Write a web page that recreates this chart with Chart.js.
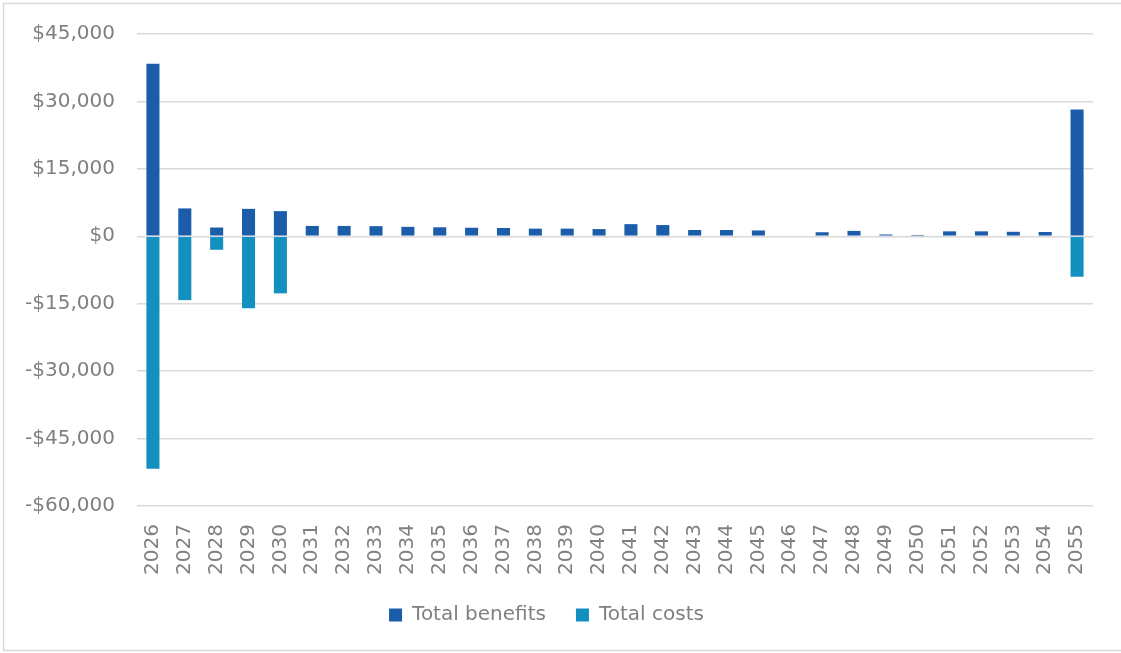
<!DOCTYPE html>
<html>
<head>
<meta charset="utf-8">
<script src="https://cdn.jsdelivr.net/npm/chart.js@4.4.1/dist/chart.umd.min.js"></script>
<style>
  html, body { margin: 0; padding: 0; background: #ffffff; }
  #wrap { width: 1121px; height: 653px; position: relative; }
</style>
</head>
<body>
<div id="wrap"><canvas id="c" width="1121" height="653"></canvas></div>
<script>
const years = ['2026','2027','2028','2029','2030','2031','2032','2033','2034','2035',
  '2036','2037','2038','2039','2040','2041','2042','2043','2044','2045',
  '2046','2047','2048','2049','2050','2051','2052','2053','2054','2055'];
const totalBenefits = [38400, 6200, 1950, 6100, 5600, 2300, 2300, 2250, 2100, 2000,
  1900, 1850, 1700, 1700, 1600, 2700, 2500, 1400, 1400, 1300,
  0, 900, 1200, 400, 300, 1100, 1100, 1000, 950, 28200];
const totalCosts = [-51700, -14200, -3000, -16000, -12700, 0, 0, 0, 0, 0,
  0, 0, 0, 0, 0, 0, 0, 0, 0, 0,
  0, 0, 0, 0, 0, 0, 0, 0, 0, -9000];
const yMin = -60000, yMax = 45000, yStep = 15000;

const FONT = 'DejaVu Sans';
const TEXT = '#808080';

const borderPlugin = {
  id: 'outerBorder',
  beforeDraw(chart) {
    const ctx = chart.ctx;
    ctx.save();
    ctx.fillStyle = '#ffffff';
    ctx.fillRect(0, 0, chart.width, chart.height);
    ctx.strokeStyle = '#d9d9d9';
    ctx.lineWidth = 1.5;
    ctx.strokeRect(3.5, 3.5, chart.width + 10, chart.height - 6);
    ctx.restore();
  }
};

function fmt(v) {
  const s = '$' + Math.abs(v).toLocaleString('en-US');
  return v < 0 ? '-' + s : s;
}

new Chart(document.getElementById('c'), {
  type: 'bar',
  data: {
    labels: years,
    datasets: [
      { label: 'Total benefits', data: totalBenefits, backgroundColor: '#1B5CAB' },
      { label: 'Total costs', data: totalCosts, backgroundColor: '#1291C1' }
    ]
  },
  options: {
    responsive: false,
    animation: false,
    devicePixelRatio: 1,
    layout: { padding: { left: 0, right: 28, top: 34, bottom: 18 } },
    datasets: { bar: { categoryPercentage: 0.41, barPercentage: 1.0 } },
    plugins: {
      tooltip: { enabled: false },
      legend: {
        position: 'bottom',
        labels: {
          font: { family: FONT, size: 20 },
          color: TEXT,
          boxWidth: 13,
          boxHeight: 13,
          padding: 30
        }
      }
    },
    scales: {
      x: {
        stacked: true,
        grid: { display: false, drawTicks: false },
        border: { display: false },
        ticks: {
          font: { family: FONT, size: 20 },
          color: TEXT,
          minRotation: 90,
          maxRotation: 90,
          autoSkip: false,
          padding: 18
        },
        afterFit(scale) { scale.height = 69; }
      },
      y: {
        stacked: true,
        min: yMin,
        max: yMax,
        grid: { color: '#d9d9d9', lineWidth: 1.5, drawTicks: false },
        border: { display: false },
        ticks: {
          stepSize: yStep,
          font: { family: FONT, size: 20 },
          color: TEXT,
          padding: 22,
          callback: (v) => fmt(v)
        },
        afterFit(scale) { scale.width = 137; }
      }
    }
  },
  plugins: [borderPlugin]
});
</script>
</body>
</html>
